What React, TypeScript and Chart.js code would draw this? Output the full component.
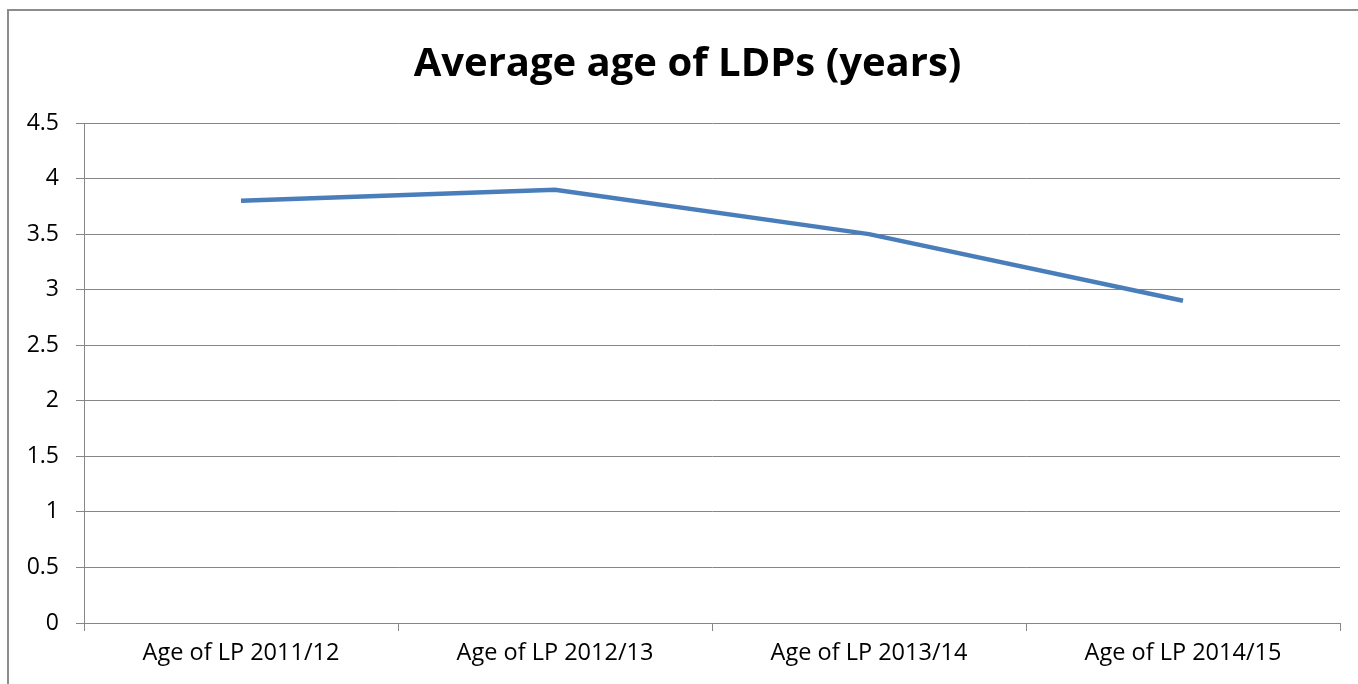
import React, { useEffect, useRef } from "react";
import { Chart, registerables } from "chart.js";

Chart.register(...registerables);

const categories = ["Age of LP 2011/12", "Age of LP 2012/13", "Age of LP 2013/14", "Age of LP 2014/15"];
const averageAge = [3.8, 3.9, 3.5, 2.9];
const titleText = "Average age of LDPs (years)";

// Centre the title over the whole frame (as the original does), not just over the padded area
const titleCenterPlugin = {
  id: "titleCenter",
  afterLayout(chart: any) {
    const t = chart.titleBlock;
    if (t) {
      t.left = 0;
      t.right = 1357;
      t.width = 1357;
    }
  },
};

export default function App() {
  const ref = useRef<HTMLCanvasElement>(null);
  useEffect(() => {
    if (!ref.current) return;
    const font = "Open Sans";
    const chart = new Chart(ref.current, {
      type: "line",
      data: {
        labels: categories,
        datasets: [
          {
            label: "Average age",
            data: averageAge,
            borderColor: "#4a7ebb",
            backgroundColor: "#4a7ebb",
            borderWidth: 4.5,
            pointRadius: 0,
            tension: 0,
          },
        ],
      },
      plugins: [titleCenterPlugin],
      options: {
        animation: false,
        responsive: false,
        maintainAspectRatio: false,
        layout: { padding: { left: 0, right: 29, top: 0, bottom: 0 } },
        plugins: {
          legend: { display: false },
          tooltip: { enabled: false },
          title: {
            display: true,
            text: titleText,
            color: "#000",
            font: { family: font, size: 40, weight: "bold" },
            padding: { top: 30, bottom: 34 },
          },
        },
        scales: {
          x: {
            type: "category",
            offset: true,
            grid: {
              display: true,
              drawOnChartArea: false,
              offset: true,
              tickLength: 8,
              color: "#868686",
              lineWidth: 1,
            },
            border: { display: true, color: "#868686", width: 1 },
            ticks: {
              color: "#000",
              font: { family: font, size: 23.5 },
              padding: 8,
              maxRotation: 0,
            },
            afterFit: (scale: any) => {
              scale.height = 61;
            },
          },
          y: {
            min: 0,
            max: 4.5,
            grid: {
              color: "#868686",
              lineWidth: 1,
              tickLength: 8,
            },
            border: { display: true, color: "#868686", width: 1 },
            ticks: {
              stepSize: 0.5,
              color: "#000",
              font: { family: font, size: 23 },
              padding: 17,
              callback: (v: any) => String(Number(v)),
            },
            afterFit: (scale: any) => {
              scale.width = 75;
            },
          },
        },
      },
    });
    return () => chart.destroy();
  }, []);

  return (
    <div style={{ position: "fixed", left: 0, top: 0, width: 1358, height: 684, overflow: "hidden", background: "#fff" }}>
      <div
        style={{
          position: "absolute",
          left: 7,
          top: 9,
          width: 1360,
          height: 675,
          borderLeft: "2px solid #8c8c8c",
          borderTop: "2px solid #8c8c8c",
        }}
      >
        <canvas ref={ref} width={1360} height={673} style={{ display: "block", width: 1360, height: 673 }} />
      </div>
    </div>
  );
}
